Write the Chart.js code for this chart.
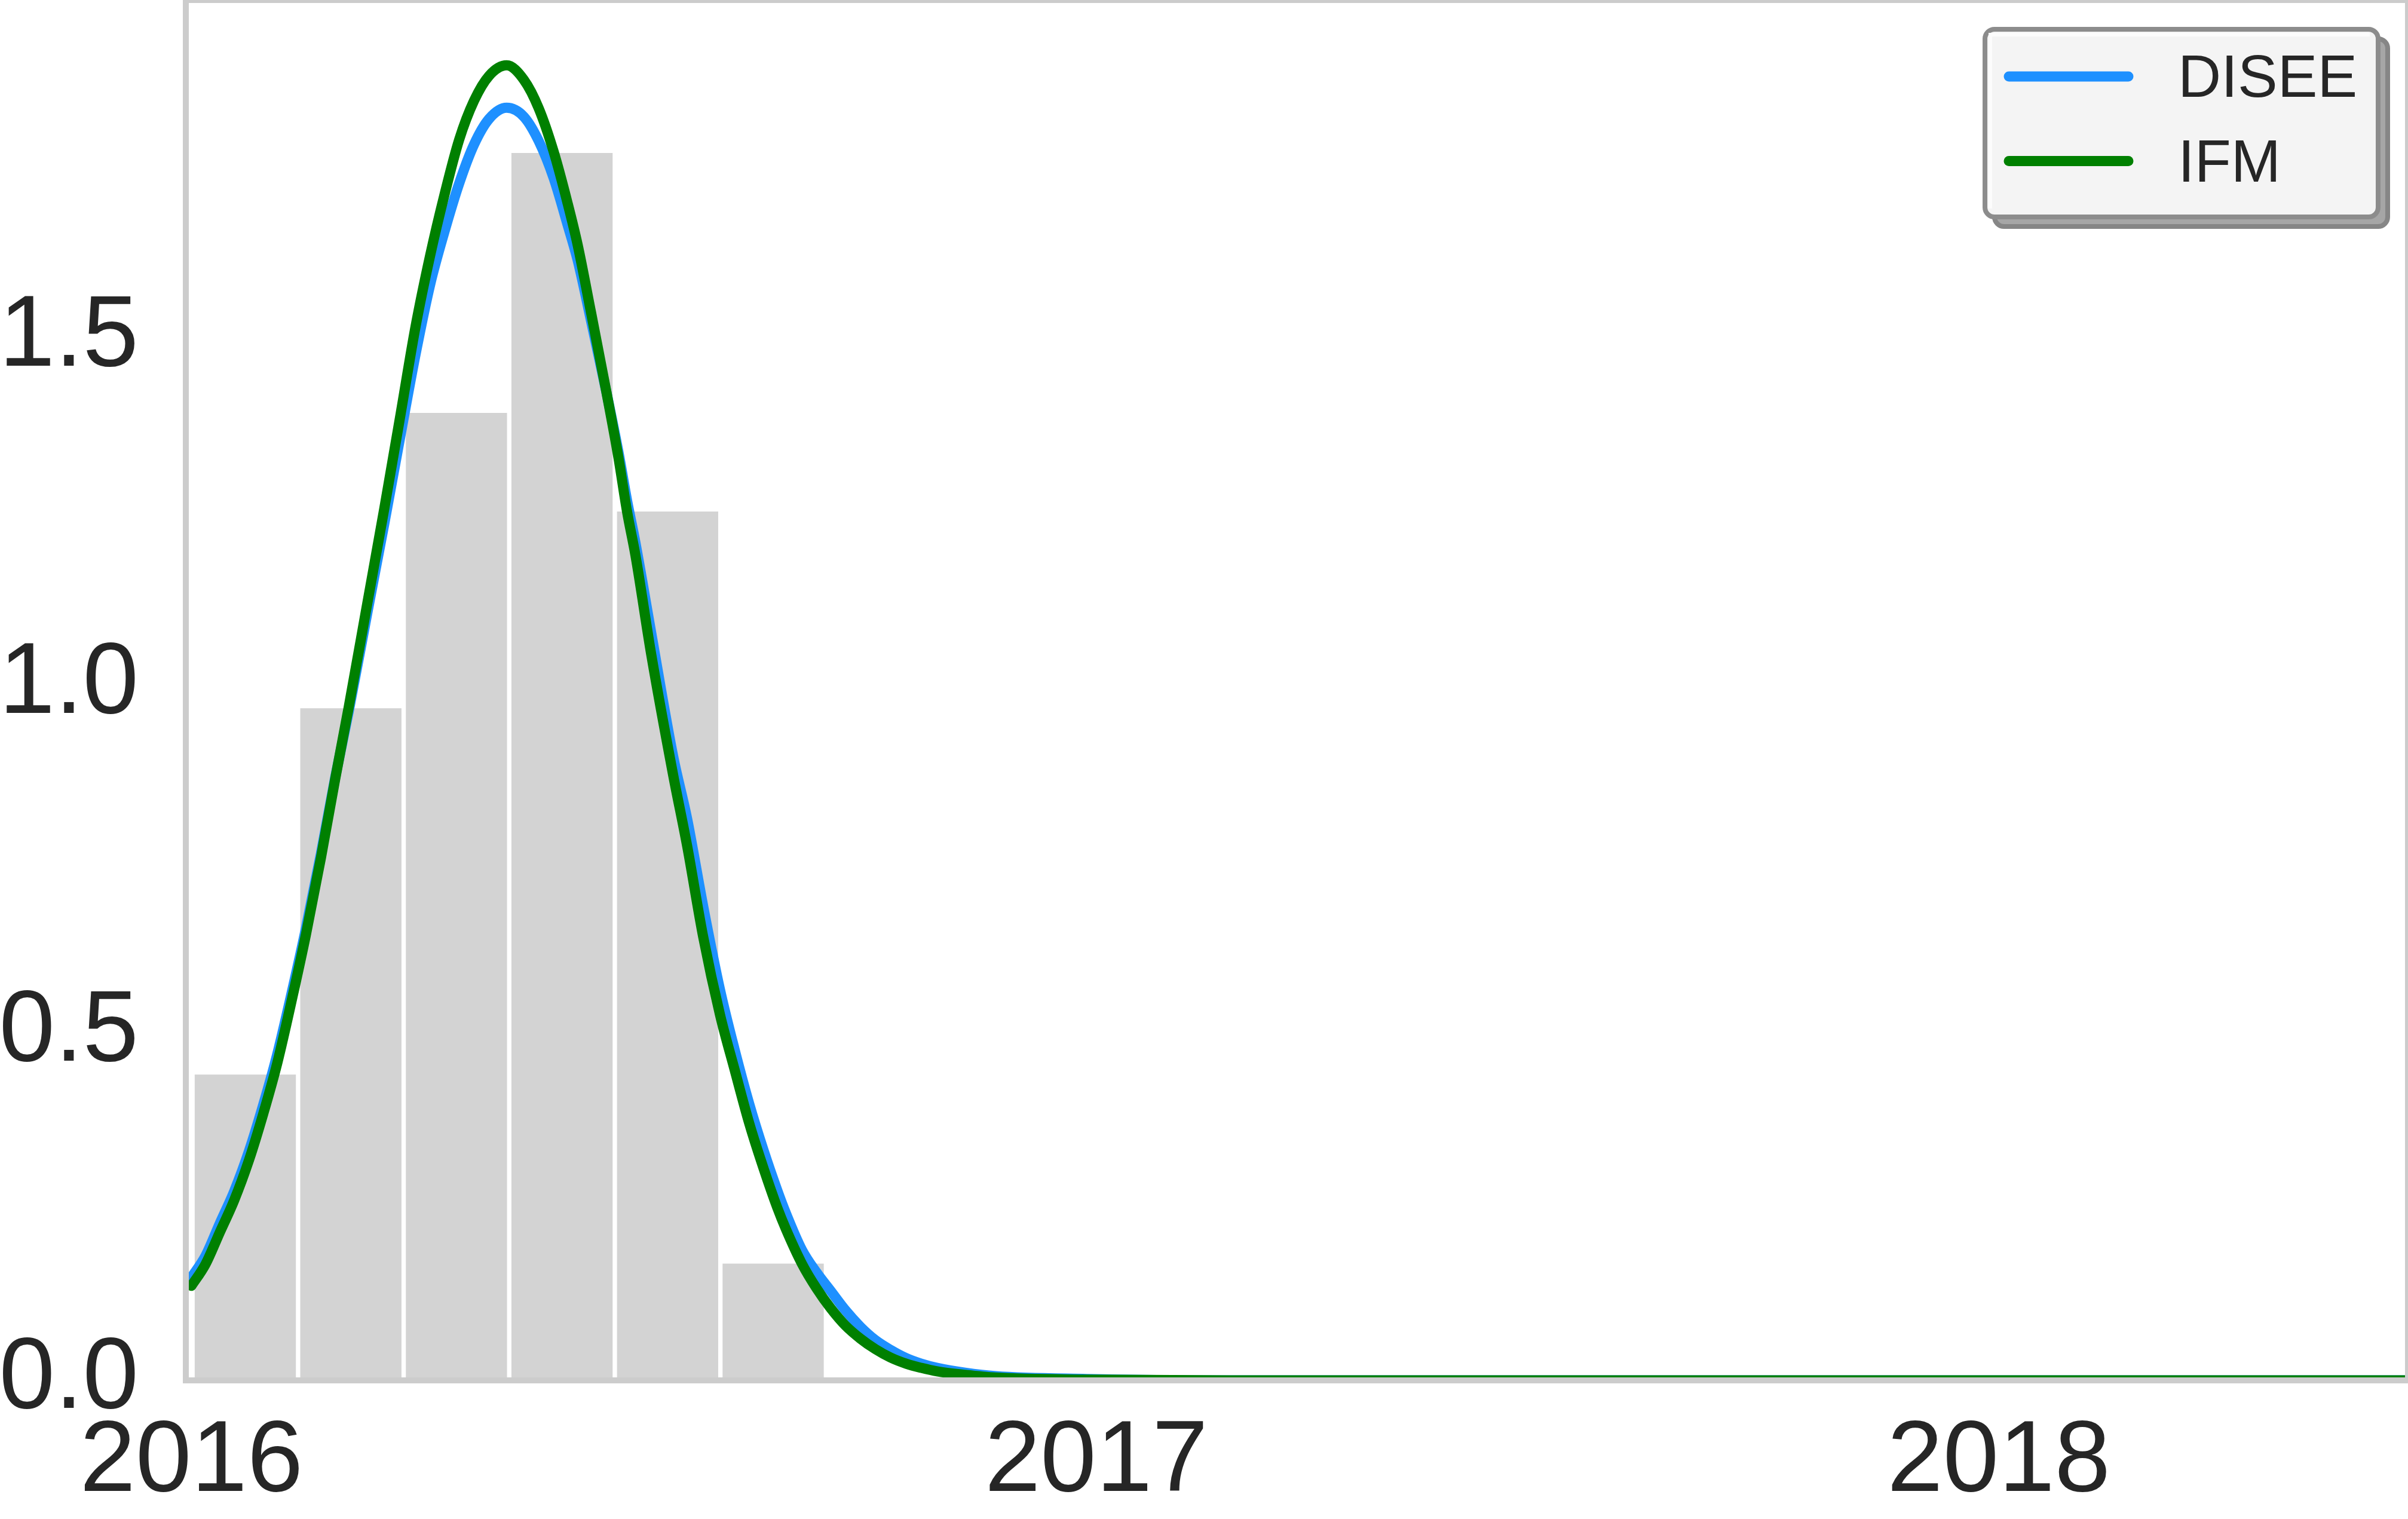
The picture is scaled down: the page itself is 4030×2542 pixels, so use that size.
<!DOCTYPE html>
<html>
<head>
<meta charset="utf-8">
<title>DISEE vs IFM</title>
<script src="https://cdn.jsdelivr.net/npm/chart.js@4.4.1/dist/chart.umd.min.js"></script>
<style>
  html, body { margin: 0; padding: 0; background: #ffffff; }
  canvas { display: block; }
</style>
</head>
<body>
<canvas id="densityChart" width="4030" height="2542"></canvas>
<script>
// x values are days counted from 2016-01-01
const xTickDays = [0, 366, 731];
const xTickLabels = ["2016", "2017", "2018"];
const yTicks = [0, 0.5, 1.0, 1.5];

// histogram (bin centres, heights)
const binCenters = [21.8, 64.5, 107.2, 149.9, 192.6, 235.3];
const binHeights = [0.44, 0.967, 1.392, 1.766, 1.25, 0.168];

// fitted curves
const curveDays = [0, 5.7, 11.5, 17.3, 23.4, 29.1, 34.7, 40.9, 46.3, 52.4,
  58.2, 63.6, 71.2, 78.0, 84.7, 90.6, 96.6, 102.3, 108.3, 114.3,
  120.4, 127.5, 134.5, 140.5, 146.5, 152.2, 156.2, 161.6, 167.9, 172.7,
  176.2, 179.6, 186.0, 194.9, 200.5, 207.0, 213.8, 219.7, 225.6, 231.5,
  236.9, 240.4, 246.9, 252.9, 258.5, 264.5, 270.6, 276.6, 282.7, 289.1,
  295.2, 301.6, 312.9, 325.4, 362.0, 420.0, 896.5];

const diseeValues = [0.148, 0.179, 0.226, 0.272, 0.331, 0.397, 0.469, 0.563, 0.65, 0.758,
  0.868, 0.962, 1.105, 1.232, 1.362, 1.475, 1.577, 1.652, 1.722, 1.778,
  1.815, 1.831, 1.818, 1.783, 1.73, 1.662, 1.612, 1.525, 1.421, 1.336,
  1.266, 1.205, 1.075, 0.897, 0.808, 0.682, 0.562, 0.476, 0.398, 0.33,
  0.274, 0.241, 0.188, 0.155, 0.129, 0.101, 0.077, 0.058, 0.044, 0.032,
  0.024, 0.018, 0.011, 0.006, 0.002, 0, 0];

const ifmValues = [0.136, 0.167, 0.213, 0.259, 0.318, 0.384, 0.456, 0.552, 0.641, 0.752,
  0.866, 0.968, 1.119, 1.254, 1.392, 1.515, 1.619, 1.705, 1.785, 1.841,
  1.877, 1.892, 1.871, 1.83, 1.768, 1.693, 1.634, 1.537, 1.421, 1.328,
  1.25, 1.187, 1.044, 0.87, 0.769, 0.638, 0.526, 0.447, 0.37, 0.304,
  0.249, 0.218, 0.168, 0.132, 0.104, 0.079, 0.06, 0.045, 0.033, 0.024,
  0.018, 0.013, 0.008, 0.004, 0.001, 0, 0];

const tickFont = { family: "'Liberation Sans', Arial, sans-serif", size: 168 };
const textColor = "#262626";

function toPoints(values) {
  return curveDays.map((d, i) => ({ x: d, y: values[i] }));
}

// spines on top of the data, legend box with shadow
const frameAndLegend = {
  id: "frameAndLegend",
  afterDatasetsDraw(chart) {
    const { ctx, chartArea } = chart;
    ctx.save();
    ctx.strokeStyle = "#cccccc";
    ctx.lineWidth = 10;
    ctx.strokeRect(chartArea.left, chartArea.top,
      chartArea.right - chartArea.left, chartArea.bottom - chartArea.top);
    ctx.restore();
  },
  afterDraw(chart) {
    const ctx = chart.ctx;
    const items = chart.data.datasets.filter((ds) => ds.type === "line");
    const box = { x: 3322, y: 49, w: 658, h: 314, r: 16 };

    ctx.save();
    ctx.lineWidth = 8;

    ctx.beginPath();
    ctx.roundRect(box.x + 16, box.y + 16, box.w, box.h, box.r);
    ctx.fillStyle = "#a6a6a6";
    ctx.fill();
    ctx.strokeStyle = "#868686";
    ctx.stroke();

    ctx.beginPath();
    ctx.roundRect(box.x, box.y, box.w, box.h, box.r);
    ctx.fillStyle = "#f4f4f4";
    ctx.fill();
    ctx.strokeStyle = "#8c8c8c";
    ctx.stroke();

    // light inner edge on top and left
    ctx.beginPath();
    ctx.moveTo(box.x + 9, box.y + box.h - 14);
    ctx.lineTo(box.x + 9, box.y + 9);
    ctx.lineTo(box.x + box.w - 14, box.y + 9);
    ctx.strokeStyle = "#fcfcfc";
    ctx.lineWidth = 6;
    ctx.stroke();

    items.forEach((ds, i) => {
      const rowY = box.y + 79 + i * 141.6;
      ctx.beginPath();
      ctx.moveTo(3362, rowY);
      ctx.lineTo(3562, rowY);
      ctx.strokeStyle = ds.borderColor;
      ctx.lineWidth = 17;
      ctx.lineCap = "round";
      ctx.stroke();

      ctx.fillStyle = textColor;
      ctx.font = "100px 'Liberation Sans', Arial, sans-serif";
      ctx.textBaseline = "alphabetic";
      ctx.textAlign = "left";
      ctx.fillText(ds.label, 3645, rowY + 34);
    });
    ctx.restore();
  },
};

const ctx = document.getElementById("densityChart").getContext("2d");

new Chart(ctx, {
  type: "bar",
  data: {
    datasets: [
      {
        type: "bar",
        label: "Histogram",
        data: binCenters.map((c, i) => ({ x: c, y: binHeights[i] })),
        backgroundColor: "#d3d3d3",
        borderColor: "#ffffff",
        borderWidth: { left: 4, right: 4, top: 0, bottom: 0 },
        barPercentage: 1,
        categoryPercentage: 1,
        order: 3,
      },
      {
        type: "line",
        label: "DISEE",
        data: toPoints(diseeValues),
        borderColor: "#1e90ff",
        borderWidth: 17,
        pointRadius: 0,
        fill: false,
        cubicInterpolationMode: "monotone",
        borderCapStyle: "round",
        borderJoinStyle: "round",
        clip: 0,
        order: 2,
      },
      {
        type: "line",
        label: "IFM",
        data: toPoints(ifmValues),
        borderColor: "#008000",
        borderWidth: 17,
        pointRadius: 0,
        fill: false,
        cubicInterpolationMode: "monotone",
        borderCapStyle: "round",
        borderJoinStyle: "round",
        clip: 0,
        order: 1,
      },
    ],
  },
  options: {
    responsive: false,
    animation: false,
    devicePixelRatio: 1,
    layout: { autoPadding: false, padding: 0 },
    plugins: {
      legend: { display: false },
      tooltip: { enabled: false },
    },
    scales: {
      x: {
        type: "linear",
        min: -2.25,
        max: 896.5,
        offset: false,
        grid: { display: false, drawTicks: false },
        border: { display: false },
        ticks: {
          font: tickFont,
          color: textColor,
          padding: 38,
          maxRotation: 0,
          autoSkip: false,
          callback: (value) => xTickLabels[xTickDays.indexOf(value)],
        },
        afterBuildTicks: (scale) => {
          scale.ticks = xTickDays.map((v) => ({ value: v }));
        },
        afterFit: (scale) => {
          scale.height = 232;
          scale.paddingLeft = 0;
          scale.paddingRight = 0;
        },
      },
      y: {
        type: "linear",
        min: 0,
        max: 1.986,
        grid: { display: false, drawTicks: false },
        border: { display: false },
        ticks: {
          font: tickFont,
          color: textColor,
          padding: 79,
          callback: (value) => value.toFixed(1),
        },
        afterBuildTicks: (scale) => {
          scale.ticks = yTicks.map((v) => ({ value: v }));
        },
        afterFit: (scale) => {
          scale.width = 311;
          scale.paddingTop = 0;
          scale.paddingBottom = 0;
        },
      },
    },
  },
  plugins: [frameAndLegend],
});
</script>
</body>
</html>
